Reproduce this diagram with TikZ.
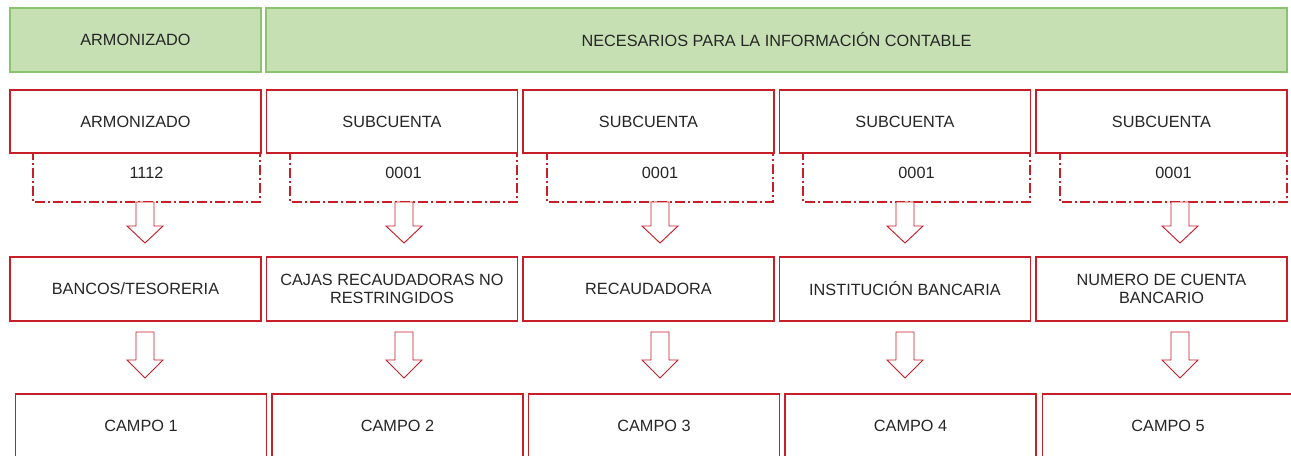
\documentclass[tikz,border=0pt]{standalone}
\usepackage{fontspec}
\setmainfont{Liberation Sans}
\definecolor{bred}{RGB}{200,30,40}
\definecolor{gfill}{RGB}{198,224,180}
\definecolor{gdraw}{RGB}{140,195,110}
\definecolor{txt}{RGB}{38,38,38}
\begin{document}
\begin{tikzpicture}[x=0.75pt,y=-0.75pt,
  every node/.style={font=\fontsize{12.2pt}{13pt}\selectfont, text=txt, align=center},
  gbox/.style={draw=gdraw, fill=gfill, line width=0.8pt, minimum height={64*0.75pt}, inner sep=0pt},
  rbox/.style={draw=bred, fill=white, line width=0.8pt, inner sep=0pt},
  dashbox/.style={draw=bred, line width=0.8pt, dash pattern=on 7.5pt off 2.25pt on 1.5pt off 2.25pt},
  barrow/.style={draw=bred, fill=white, line width=0.7pt, line join=miter}
]
\clip (0,0) rectangle (1291,456);
\fill[white] (0,0) rectangle (1291,456);

% top green headers
\node[gbox, minimum width={251*0.75pt}] (g1) at (135.5,40) {ARMONIZADO};
\node[gbox, minimum width={1021*0.75pt}] (g2) at (776.5,40) {NECESARIOS PARA LA INFORMACIÓN CONTABLE};

% dashed boxes (drawn first)
\foreach \l/\r/\n/\t in {33/260/1/1112, 290/517/2/0001, 547/773/3/0001, 803/1030/4/0001, 1060/1287/5/0001}{
  \draw[dashbox] (\l,150) -- (\l,202) -- (\r,202) -- (\r,150);
  \node (d\n) at ({(\l+\r)/2},173) {\t};
}

% row 2
\foreach \c/\n/\t in {135.5/1/ARMONIZADO, 392/2/SUBCUENTA, 648.5/3/SUBCUENTA, 905/4/SUBCUENTA, 1161.5/5/SUBCUENTA}{
  \node[rbox, minimum width={251*0.75pt}, minimum height={63*0.75pt}] (a\n) at (\c,121.5) {\t};
}

% row 3
\foreach \c/\n/\t in {135.5/1/{BANCOS/TESORERIA}, 392/2/{CAJAS RECAUDADORAS NO\\RESTRINGIDOS}, 648.5/3/RECAUDADORA, 905/4/INSTITUCIÓN BANCARIA, 1161.5/5/{NUMERO DE CUENTA\\BANCARIO}}{
  \node[rbox, minimum width={251*0.75pt}, minimum height={64*0.75pt}] (b\n) at (\c,289) {\t};
}

% row 4
\foreach \c/\n/\t in {141/1/CAMPO 1, 397.5/2/CAMPO 2, 654/3/CAMPO 3, 910.5/4/CAMPO 4, 1168/5/CAMPO 5}{
  \node[rbox, minimum width={251*0.75pt}, minimum height={64*0.75pt}] (c\n) at (\c,426) {\t};
}

% block arrows
\foreach \x in {145, 404, 660, 905, 1180}{
  \draw[barrow] ({\x-9},202) -- ({\x-9},226) -- ({\x-18},226) -- (\x,243) -- ({\x+18},226) -- ({\x+9},226) -- ({\x+9},202) -- cycle;
  \draw[barrow] ({\x-9},332) -- ({\x-9},360) -- ({\x-18},360) -- (\x,378) -- ({\x+18},360) -- ({\x+9},360) -- ({\x+9},332) -- cycle;
}
\end{tikzpicture}
\end{document}
